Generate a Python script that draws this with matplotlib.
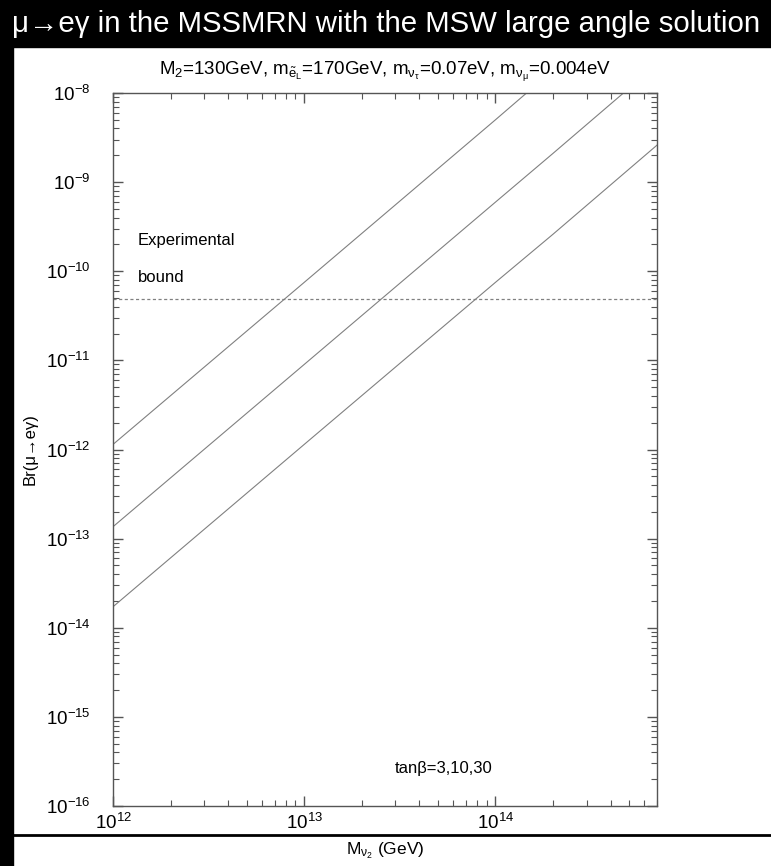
import matplotlib
matplotlib.use('Agg')
import matplotlib.pyplot as plt
import numpy as np
from matplotlib.patches import Rectangle
from matplotlib.lines import Line2D

plt.rcParams['font.family'] = ['Liberation Sans', 'DejaVu Sans']
plt.rcParams['mathtext.fontset'] = 'custom'
plt.rcParams['mathtext.rm'] = 'Liberation Sans'
plt.rcParams['mathtext.it'] = 'Liberation Sans:italic'
plt.rcParams['mathtext.default'] = 'regular'

# data
mass = [1e12, 1e13, 1e14, 2e14, 7e14]
br_tb30 = [1.14e-12, 7.5e-11, 5.0e-9, 1.8e-8, 2.0e-7]
br_tb10 = [1.36e-13, 9.0e-12, 5.96e-10, 2.1e-9, 2.1e-8]
br_tb3 = [1.72e-14, 1.14e-12, 7.5e-11, 2.6e-10, 2.6e-9]
exp_bound = 4.9e-11

W, H = 771, 866
fig = plt.figure(figsize=(W / 100, H / 100), dpi=100)

# black frame pieces
fig.patches.append(Rectangle((0, 1 - 47 / H), 1, 47 / H, transform=fig.transFigure,
                             color='black', zorder=0))
fig.patches.append(Rectangle((0, 0), 13 / W, 1, transform=fig.transFigure,
                             color='black', zorder=0))
fig.lines.append(Line2D([13 / W, 1], [1 - 835 / H, 1 - 835 / H], transform=fig.transFigure,
                        color='black', lw=2))

ax = fig.add_axes([113 / W, 1 - 806 / H, 544 / W, 713 / H])
gray = '#808080'
for br in (br_tb30, br_tb10, br_tb3):
    ax.plot(mass, br, color=gray, lw=0.8)
ax.axhline(exp_bound, color=gray, lw=0.9, ls=(0, (2.5, 2)))

ax.set_xscale('log')
ax.set_yscale('log')
ax.set_xlim(1e12, 7e14)
ax.set_ylim(1e-16, 1e-8)

for s in ax.spines.values():
    s.set_color('#555555')
    s.set_linewidth(1.0)

ax.tick_params(which='both', direction='in', top=True, right=True, colors='#555555',
               labelcolor='black', labelsize=13.5)
ax.tick_params(which='major', length=7, width=1)
ax.tick_params(which='minor', length=4, width=0.8)
ax.tick_params(axis='y', pad=16)
ax.tick_params(axis='x', pad=5)
ax.yaxis.set_minor_locator(matplotlib.ticker.LogLocator(base=10, subs=np.arange(2, 10), numticks=20))
ax.yaxis.set_minor_formatter(matplotlib.ticker.NullFormatter())
ax.set_yticks([10.0 ** k for k in range(-16, -7)])
ax.set_yticklabels([r'$10^{%d}$' % k for k in range(-16, -7)])
ax.set_xticks([1e12, 1e13, 1e14])
ax.set_xticklabels([r'$10^{12}$', r'$10^{13}$', r'$10^{14}$'])

fig.text(138 / W, 1 - 240 / H, 'Experimental', fontsize=12, va='center', ha='left')
fig.text(138 / W, 1 - 278 / H, 'bound', fontsize=12, va='center', ha='left')
fig.text(395 / W, 1 - 768 / H, 'tanβ=3,10,30', fontsize=12, va='center', ha='left')

fig.text(12 / W, 1 - 24 / H, 'μ→eγ in the MSSMRN with the MSW large angle solution',
         color='white', fontsize=21.2, va='center', ha='left')
fig.text(385 / W, 1 - 72 / H,
         r'M$_2$=130GeV, m$_{\tilde{e}_L}$=170GeV, m$_{\nu_\tau}$=0.07eV, m$_{\nu_\mu}$=0.004eV',
         fontsize=13.5, va='center', ha='center')
fig.text(30 / W, 1 - 449 / H, 'Br(μ→eγ)', fontsize=12, rotation=90,
         va='center', ha='center')
fig.text(385 / W, 1 - 851 / H, r'M$_{\nu_2}$ (GeV)', fontsize=12.5, va='center', ha='center')

fig.savefig('out.png', dpi=100)
